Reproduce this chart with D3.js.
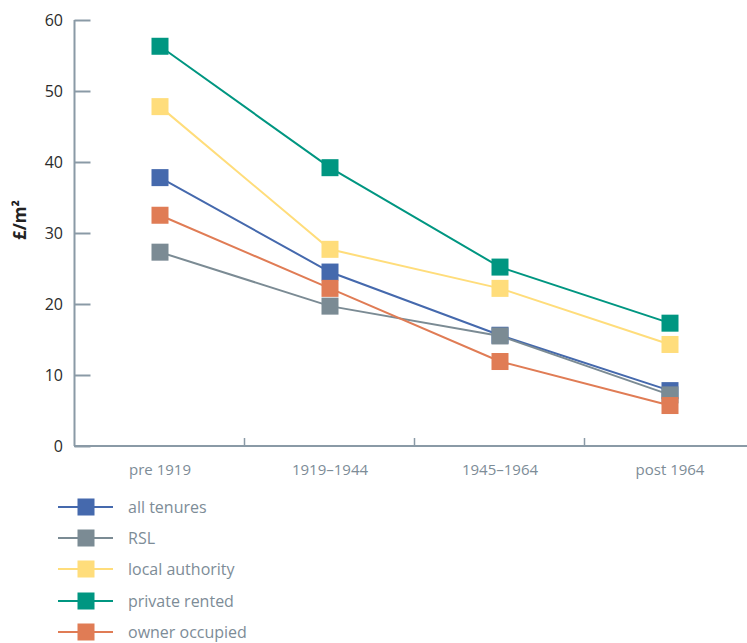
<!DOCTYPE html>
<html>
<head>
<meta charset="utf-8">
<script src="https://cdn.jsdelivr.net/npm/d3@7"></script>
<style>
  html, body { margin: 0; padding: 0; background: #fff; }
  svg { display: block; font-family: "Open Sans", "Noto Sans", sans-serif; }
</style>
</head>
<body>
<svg id="chart" width="747" height="643"></svg>
<script>
// Building periods along the x axis
const periods = ["pre 1919", "1919–1944", "1945–1964", "post 1964"];

// Cost per square metre (£/m²) by tenure
const allTenures      = [37.8, 24.5, 15.6, 7.8];
const rsl             = [27.3, 19.7, 15.5, 7.2];
const localAuthority  = [47.8, 27.7, 22.2, 14.3];
const privateRented   = [56.3, 39.2, 25.2, 17.3];
const ownerOccupied   = [32.5, 22.2, 11.9, 5.7];

const seriesNames  = ["all tenures", "RSL", "local authority", "private rented", "owner occupied"];
const seriesValues = [allTenures, rsl, localAuthority, privateRented, ownerOccupied];
const seriesColors = ["#4569ad", "#7b8b94", "#ffdd7b", "#009681", "#e07c55"];

const yTicks = [0, 10, 20, 30, 40, 50, 60];

const svg = d3.select("#chart");
const axisColor = "#8a9aa6";

const x = d3.scaleBand().domain(periods).range([75, 755]);
const y = d3.scaleLinear().domain([0, 60]).range([446, 20]);

// y axis: line with inward ticks
const yAxis = svg.append("g").attr("transform", "translate(74.5,0)")
  .call(d3.axisRight(y).tickValues(yTicks).tickSize(16).tickFormat(""));
yAxis.select(".domain").attr("stroke", axisColor).attr("stroke-width", 2).attr("d", `M0,${y(60)}V${y(0)}`);
yAxis.selectAll(".tick line").attr("stroke", axisColor).attr("stroke-width", 2);

svg.append("g").selectAll("text").data(yTicks).join("text")
  .attr("x", 63).attr("y", d => y(d)).attr("dy", "0.35em")
  .attr("text-anchor", "end").attr("font-size", 16).attr("fill", "#2b2b2b")
  .text(d => d);

// x axis: baseline with upward ticks at band boundaries
const xAxisG = svg.append("g");
xAxisG.append("line").attr("x1", 74).attr("x2", 755).attr("y1", 446).attr("y2", 446)
  .attr("stroke", axisColor).attr("stroke-width", 2);
xAxisG.selectAll("line.sep").data(periods.slice(1)).join("line").attr("class", "sep")
  .attr("x1", d => x(d) - 0.5).attr("x2", d => x(d) - 0.5)
  .attr("y1", 446).attr("y2", 438)
  .attr("stroke", axisColor).attr("stroke-width", 1.5);
xAxisG.selectAll("text").data(periods).join("text")
  .attr("x", d => x(d) + x.bandwidth() / 2).attr("y", 475)
  .attr("text-anchor", "middle").attr("font-size", 15).attr("fill", "#7d8c97")
  .text(d => d);

// y axis title
svg.append("text")
  .attr("transform", "translate(26,220) rotate(-90)")
  .attr("text-anchor", "middle").attr("font-size", 17).attr("font-weight", "bold").attr("fill", "#222")
  .text("£/m²");

// series lines and square markers
const cx = d => x(d) + x.bandwidth() / 2;
const line = d3.line().x((v, i) => cx(periods[i])).y(v => y(v));
const m = 17;

seriesValues.forEach((vals, s) => {
  const g = svg.append("g");
  g.append("path").datum(vals).attr("d", line)
    .attr("fill", "none").attr("stroke", seriesColors[s]).attr("stroke-width", 2);
  g.selectAll("rect").data(vals).join("rect")
    .attr("x", (v, i) => cx(periods[i]) - m / 2)
    .attr("y", v => y(v) - m / 2)
    .attr("width", m).attr("height", m)
    .attr("fill", seriesColors[s]);
});

// legend
const legend = svg.append("g");
const rowY = [507, 538, 569, 601, 632];
seriesNames.forEach((name, s) => {
  const r = legend.append("g").attr("transform", `translate(0,${rowY[s]})`);
  r.append("line").attr("x1", 58).attr("x2", 113).attr("y1", 0).attr("y2", 0)
    .attr("stroke", seriesColors[s]).attr("stroke-width", 2);
  r.append("rect").attr("x", 86 - m / 2).attr("y", -m / 2).attr("width", m).attr("height", m)
    .attr("fill", seriesColors[s]);
  r.append("text").attr("x", 128).attr("y", 0).attr("dy", "0.35em")
    .attr("font-size", 16).attr("fill", "#7d8c97").text(name);
});
</script>
</body>
</html>
